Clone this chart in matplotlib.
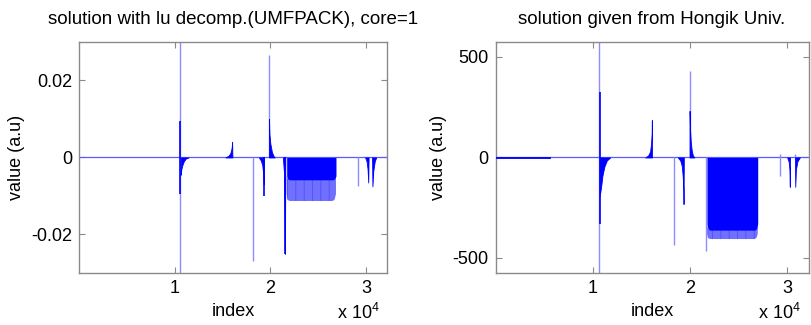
import numpy as np
import matplotlib
matplotlib.use('Agg')
import matplotlib.pyplot as plt
from matplotlib.ticker import FuncFormatter

plt.rcParams['font.family'] = ['Liberation Sans', 'DejaVu Sans']
plt.rcParams['mathtext.default'] = 'regular'
plt.rcParams['hatch.linewidth'] = 0.6

# ---- values (index, value) ----
n_index = 32200

# left panel: lu decomp. (UMFPACK)
lu_thin_x  = [10550, 18200, 19850, 29100]
lu_thin_lo = [-0.05, -0.027, 0.0, -0.0075]
lu_thin_hi = [0.05, 0.0, 0.0265, 0.0]
lu_dark_x  = [10600, 19300, 21510]
lu_dark_lo = [-0.0095, -0.0100, -0.025]
lu_dark_hi = [0.0095, 0.0, 0.0]
lu_bump_x = [[10620, 10700, 10800, 10950, 11150, 11450],
             [15300, 15600, 15800, 15950, 16000, 16030],
             [18800, 19000, 19150, 19250, 19300, 19330],
             [19850, 19900, 20000, 20150, 20300, 20450],
             [21300, 21420, 21500, 21520, 21560],
             [29900, 30050, 30150, 30220, 30260],
             [30620, 30660, 30750, 30900, 31050]]
lu_bump_y = [[-0.0045, -0.003, -0.002, -0.001, -0.0003, 0.0],
             [0.0, 0.0004, 0.001, 0.0025, 0.004, 0.0],
             [0.0, -0.0008, -0.002, -0.0045, -0.007, 0.0],
             [0.010, 0.006, 0.0035, 0.0015, 0.0005, 0.0],
             [0.0, -0.004, -0.018, -0.025, 0.0],
             [0.0, -0.001, -0.003, -0.0065, 0.0],
             [0.0, -0.0075, -0.0035, -0.001, 0.0]]
lu_band_x     = [21700, 21800, 22000, 26500, 26700, 26850]
lu_band_dark  = [-0.0048, -0.0056, -0.0058, -0.0058, -0.0056, -0.0048]
lu_band_light = [-0.0095, -0.0110, -0.0113, -0.0113, -0.0110, -0.0095]

# right panel: Hongik Univ.
hk_thin_x  = [10680, 18310, 19960, 21650, 29240, 30830]
hk_thin_lo = [-1000, -436, 0, -468, -91, 0]
hk_thin_hi = [1000, 0, 431, 0, 18, 15]
hk_dark_x  = [10700]
hk_dark_lo = [-331]
hk_dark_hi = [327]
hk_bump_x = [[0, 2000, 4000, 5600],
             [10720, 10850, 11000, 11200, 11450, 11800],
             [15400, 15700, 15900, 16000, 16060, 16080, 16100],
             [18750, 19000, 19150, 19250, 19320, 19340, 19370],
             [19960, 20000, 20080, 20180, 20300, 20450],
             [30000, 30150, 30230, 30270, 30300],
             [30800, 30830, 30900, 31050, 31300]]
hk_bump_y = [[-4, -4, -4, -4],
             [-190, -150, -90, -45, -15, 0],
             [0, 10, 30, 70, 120, 186, 0],
             [0, -15, -40, -90, -160, -232, 0],
             [232, 150, 80, 35, 10, 0],
             [0, -20, -60, -146, 0],
             [0, -146, -60, -20, 0]]
hk_band_x     = [21750, 21850, 22050, 26650, 26850, 26970]
hk_band_dark  = [-330, -355, -362, -362, -355, -330]
hk_band_light = [-380, -400, -406, -406, -400, -380]

DARK = '#0000ff'
LIGHT = '#8c8cff'
GRAY = '#8a8a8a'

fig = plt.figure(figsize=(8.11, 3.25), dpi=100)
ax1 = fig.add_axes([0.0974, 0.16, 0.380, 0.711])
ax2 = fig.add_axes([0.611, 0.16, 0.386, 0.711])


def draw(ax, tx, tlo, thi, dx, dlo, dhi, bx, by, band_x, band_d, band_l,
         ylim, yticks, ylabels, title):
    ax.axhline(0, color='#5a5aff', lw=0.9, zorder=2)
    ax.fill_between(band_x, band_d, band_l, color='#7070ff', lw=0, zorder=2,
                    hatch='||', edgecolor='#5050ff')
    ax.fill_between(band_x, 0, band_d, color=DARK, lw=0, zorder=3)
    for x, y in zip(bx, by):
        ax.fill_between(x, 0, y, color=DARK, lw=0.6, edgecolor=DARK, zorder=3)
    ax.vlines(tx, tlo, thi, color=LIGHT, lw=1.0, zorder=2)
    ax.vlines(dx, dlo, dhi, color=DARK, lw=1.2, zorder=3)

    ax.set_xlim(0, n_index)
    ax.set_ylim(*ylim)
    ax.set_xticks([10000, 20000, 30000])
    ax.xaxis.set_major_formatter(FuncFormatter(lambda v, p: '%g' % (v / 1e4)))
    ax.set_yticks(yticks)
    ax.set_yticklabels(ylabels)
    ax.tick_params(direction='in', top=True, right=True, length=4, width=0.8,
                   color=GRAY, labelsize=13, pad=5)
    for s in ax.spines.values():
        s.set_color(GRAY)
        s.set_linewidth(1.0)
    ax.set_xlabel('index', fontsize=13, labelpad=4)
    ax.set_ylabel('value (a.u)', fontsize=13, labelpad=4)
    ax.set_title(title, fontsize=13.5, pad=13)
    ax.text(0.975, -0.2, r'x 10$^4$', transform=ax.transAxes, ha='right',
            va='baseline', fontsize=13)


draw(ax1, lu_thin_x, lu_thin_lo, lu_thin_hi, lu_dark_x, lu_dark_lo, lu_dark_hi,
     lu_bump_x, lu_bump_y, lu_band_x, lu_band_dark, lu_band_light,
     (-0.03, 0.03), [-0.02, 0, 0.02], ['-0.02', '0', '0.02'],
     'solution with lu decomp.(UMFPACK), core=1')
draw(ax2, hk_thin_x, hk_thin_lo, hk_thin_hi, hk_dark_x, hk_dark_lo, hk_dark_hi,
     hk_bump_x, hk_bump_y, hk_band_x, hk_band_dark, hk_band_light,
     (-575, 575), [-500, 0, 500], ['-500', '0', '500'],
     'solution given from Hongik Univ.')

fig.savefig('out.png', dpi=100)
